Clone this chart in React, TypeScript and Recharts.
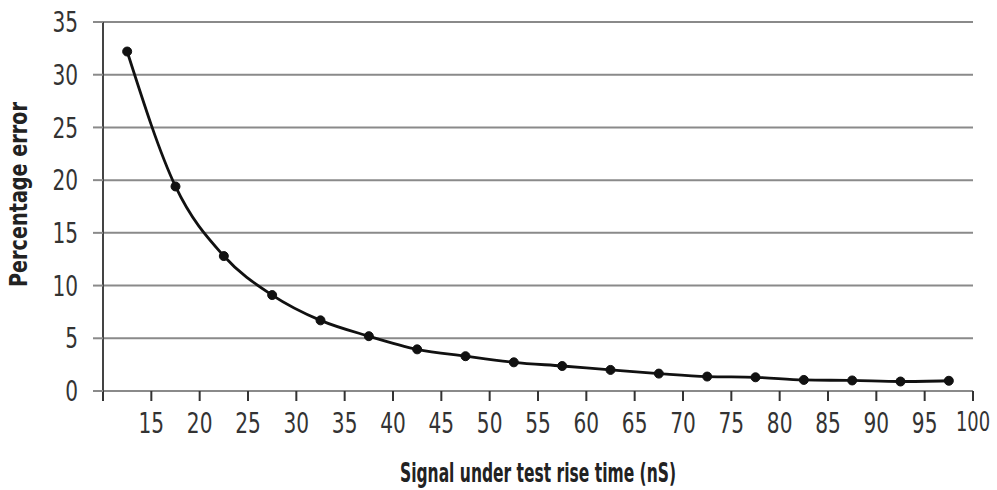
import { CartesianGrid, Line, LineChart, XAxis, YAxis, Label } from "recharts";

const riseTimes = [12.5, 17.5, 22.5, 27.5, 32.5, 37.5, 42.5, 47.5, 52.5, 57.5, 62.5, 67.5, 72.5, 77.5, 82.5, 87.5, 92.5, 97.5];
const errors = [32.2, 19.4, 12.8, 9.1, 6.7, 5.2, 3.95, 3.3, 2.72, 2.37, 2.0, 1.65, 1.37, 1.3, 1.05, 1.0, 0.9, 0.97];
const xTicks = [10, 15, 20, 25, 30, 35, 40, 45, 50, 55, 60, 65, 70, 75, 80, 85, 90, 95, 100];
const yTicks = [0, 5, 10, 15, 20, 25, 30, 35];

const data = riseTimes.map((x, i) => ({ x, y: errors[i] }));

const FONT = "'DejaVu Sans', sans-serif";
const DIGIT_W = 12.8;

// condensed look: squeeze glyphs to the narrow width of the original typeface
const labelWidth = (s: string) => (s.length > 2 ? s.length * 11.4 : s.length * DIGIT_W);

function XTick(props: any) {
  const { x, y, payload } = props;
  const s = payload.value === 10 ? "" : String(payload.value);
  if (!s) return null;
  const fs = s.length > 2 ? 26 : 28;
  return (
    <text x={x} y={y} dy="0.71em" textAnchor="middle" fill="#333" fontSize={fs} fontFamily={FONT}
      textLength={labelWidth(s)} lengthAdjust="spacingAndGlyphs">
      {s}
    </text>
  );
}

function YTick(props: any) {
  const { x, y, payload } = props;
  const s = String(payload.value);
  return (
    <text x={x} y={y} dy="0.36em" textAnchor="end" fill="#333" fontSize={28} fontFamily={FONT}
      textLength={labelWidth(s)} lengthAdjust="spacingAndGlyphs">
      {s}
    </text>
  );
}

export default function App() {
  return (
    <div style={{ position: "absolute", left: 0, top: 0, width: 997, height: 490, background: "#fff" }}>
      <LineChart width={997} height={490} data={data} margin={{ top: 22, right: 24, bottom: 59, left: 43 }}>
        <CartesianGrid horizontal vertical={false} stroke="#8a8a8a" strokeWidth={2} />
        <XAxis
          type="number"
          dataKey="x"
          domain={[10, 100]}
          ticks={xTicks}
          interval={0}
          height={40}
          tickSize={10}
          tickLine={{ stroke: "#333", strokeWidth: 2 }}
          axisLine={{ stroke: "#8a8a8a", strokeWidth: 2 }}
          tick={<XTick />}
          tickMargin={12}
        >
          <Label
            content={({ viewBox }: any) => (
              <text x={viewBox.x + viewBox.width / 2} y={482} textAnchor="middle" fill="#222"
                fontSize={26} fontWeight={700} fontFamily={FONT} textLength={276} lengthAdjust="spacingAndGlyphs">
                Signal under test rise time (nS)
              </text>
            )}
          />
        </XAxis>
        <YAxis
          type="number"
          domain={[0, 35]}
          ticks={yTicks}
          interval={0}
          width={60}
          tickSize={10}
          tickLine={{ stroke: "#8a8a8a", strokeWidth: 2 }}
          axisLine={{ stroke: "#444", strokeWidth: 2 }}
          tick={<YTick />}
          tickMargin={15}
        >
          <Label
            content={({ viewBox }: any) => {
              const cx = 27;
              const cy = viewBox.y + viewBox.height / 2 - 12;
              return (
                <text x={cx} y={cy} transform={`rotate(-90 ${cx} ${cy})`} textAnchor="middle" fill="#222"
                  fontSize={25} fontWeight={700} fontFamily={FONT} textLength={185} lengthAdjust="spacingAndGlyphs">
                  Percentage error
                </text>
              );
            }}
          />
        </YAxis>
        <Line
          type="monotone"
          dataKey="y"
          stroke="#111"
          strokeWidth={2.8}
          dot={{ r: 4.5, fill: "#111", stroke: "#111", strokeWidth: 1 }}
          activeDot={false}
          isAnimationActive={false}
        />
      </LineChart>
    </div>
  );
}
